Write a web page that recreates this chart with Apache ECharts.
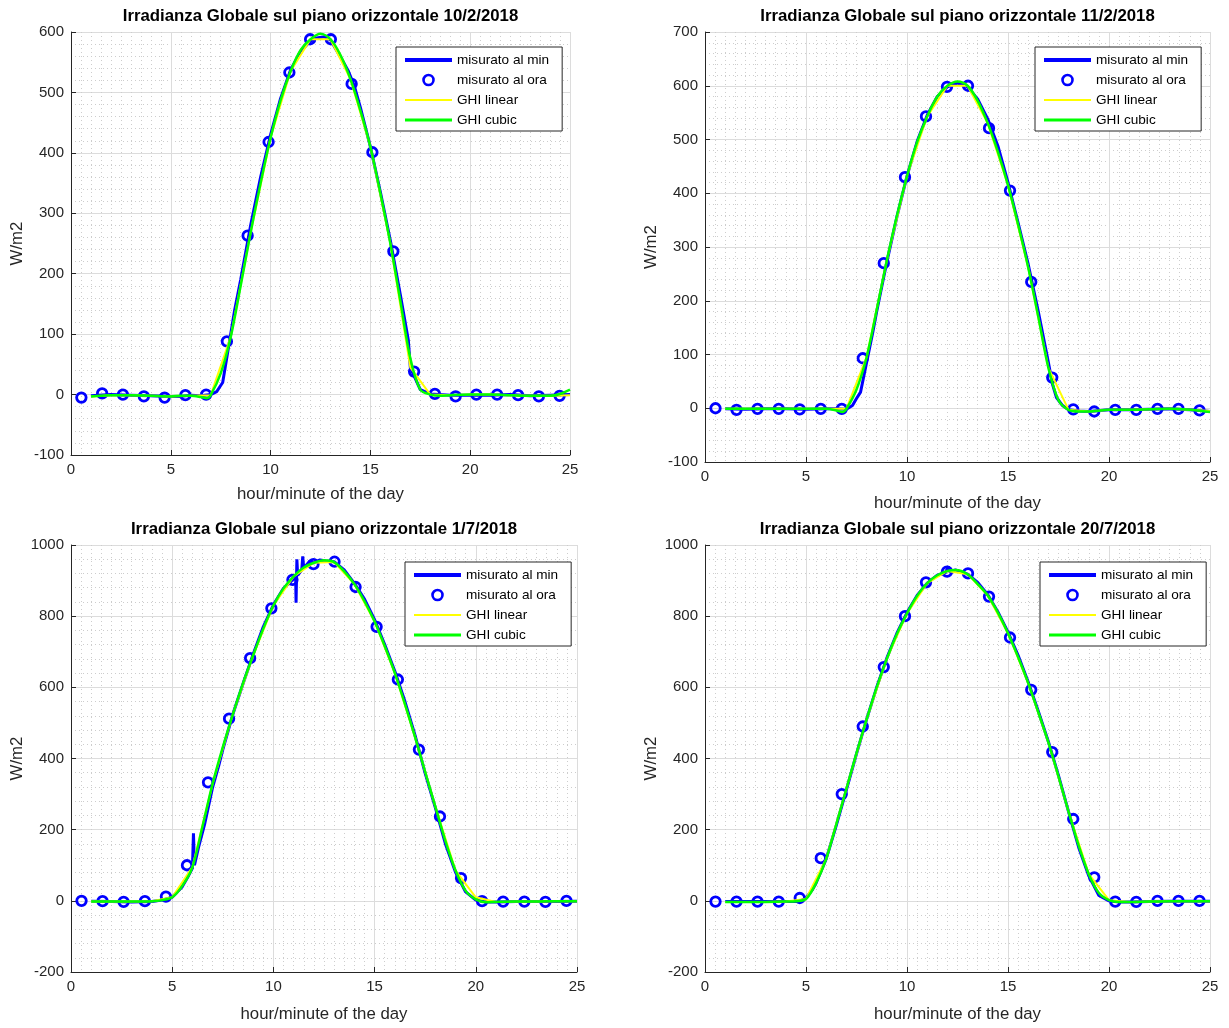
<!DOCTYPE html>
<html><head><meta charset="utf-8">
<script src="https://cdn.jsdelivr.net/npm/echarts@6/dist/echarts.min.js"></script>
<style>html,body{margin:0;padding:0;background:#fff}#c{width:1229px;height:1028px}</style>
</head><body><div id="c"></div><script>
// ---------- DATA ----------
const hourX = [0.52,1.56,2.6,3.65,4.69,5.73,6.77,7.81,8.85,9.9,10.94,11.98,13.02,14.06,15.1,16.15,17.19,18.23,19.27,20.31,21.35,22.4,23.44,24.48];
const xTicks = [0,5,10,15,20,25];

// 10/2/2018
const day1Hour = [-5,2,0,-3,-5,-1,0,88,263,418,533,588,588,514,401,237,38,1,-3,0,0,-1,-3,-2];
const day1Min = [[1,-2],[2,0],[3,-1],[4,-2],[5,-3],[5.5,-3],[6,-1],[6.5,-2],[7,0],[7.3,5],[7.5,15],[7.6,20],[7.9,80],[8.2,140],[8.5,190],[9,280],[9.5,360],[10,430],[10.5,490],[11,537],[11.5,568],[12,585],[12.3,590],[12.7,592],[13,587],[13.3,570],[13.6,553],[13.9,535],[14.2,510],[14.5,475],[15,410],[15.5,335],[16,255],[16.5,165],[16.9,90],[17,45],[17.2,30],[17.5,8],[18,1],[19,-1],[20,-1],[21,-1],[22,0],[23,-2],[24,-1],[25,0]];
const day1Linear = [[1,-3],[2,-1],[3,-1],[4,-2],[5,-3],[6,-2],[7,-1],[8,95],[9,268],[10,425],[11,535],[12,588],[13,588],[14,522],[15,410],[16,250],[17,45],[18,0],[19,-1],[20,0],[21,0],[22,-1],[23,-2],[24,-2],[25,-1]];
const day1Cubic = [[1,-3],[1.5,-2],[2,-1],[3,-1],[4,-2],[5,-3],[5.5,-2],[6,-2],[6.5,-4],[6.8,-6],[7,-1],[7.5,35],[8,95],[8.5,180],[9,268],[9.5,350],[10,425],[10.5,487],[11,535],[11.5,570],[12,588],[12.5,597],[13,588],[13.5,562],[14,522],[14.5,470],[15,410],[15.5,333],[16,250],[16.5,155],[17,60],[17.5,8],[18,0],[18.5,-2],[19,-1],[20,0],[21,0],[22,-1],[23,-2],[24,-2],[24.5,1],[25,8]];

// 11/2/2018
const day2Hour = [0,-3,-1,-1,-2,-1,-1,93,270,430,543,598,600,521,405,235,57,-2,-6,-3,-3,-1,-1,-4];
const day2Min = [[1,-1],[2,-2],[3,-1],[4,-1],[5,-2],[6,-1],[6.5,-1],[7,-2],[7.3,5],[7.5,18],[7.7,30],[8,85],[8.3,140],[8.5,180],[9,272],[9.5,356],[10,432],[10.5,496],[11,545],[11.5,580],[12,598],[12.5,605],[13,598],[13.5,575],[14,538],[14.5,488],[15,420],[15.5,345],[16,268],[16.5,180],[17,85],[17.2,45],[17.4,20],[17.7,5],[18,-3],[18.5,-5],[19,-6],[20,-3],[21,-3],[22,-2],[23,-1],[24,-3],[24.5,-4],[25,-6]];
const day2Linear = [[1,-1],[2,-1],[3,-1],[4,-1],[5,-1],[6,-1],[7,-1],[8,95],[9,275],[10,432],[11,543],[12,600],[13,600],[14,530],[15,415],[16,262],[17,75],[18,-3],[19,-6],[20,-3],[21,-3],[22,-2],[23,-1],[24,-3],[25,-5]];
const day2Cubic = [[1,-1],[2,-1],[3,-1],[4,-1],[5,-1],[6,-1],[6.5,-4],[6.8,-7],[7,-1],[7.5,35],[8,95],[8.5,183],[9,275],[9.5,358],[10,432],[10.5,495],[11,543],[11.5,580],[12,600],[12.5,608],[13,600],[13.5,572],[14,530],[14.5,477],[15,415],[15.5,342],[16,262],[16.5,170],[17,75],[17.5,15],[18,-3],[18.5,-6],[19,-6],[20,-3],[21,-3],[22,-2],[23,-1],[24,-3],[25,-7]];

// 1/7/2018
const day3Hour = [0,-1,-3,-1,12,100,333,512,682,822,902,946,953,882,770,622,425,237,64,-1,-2,-2,-3,0];
const day3Min = [[1,-1],[2,-2],[3,-3],[4,-2],[4.5,2],[5,10],[5.5,40],[5.8,70],[6,92],[6.05,190],[6.1,100],[6.3,150],[6.6,215],[7,320],[7.3,380],[7.5,425],[8,525],[8.5,610],[9,693],[9.5,770],[10,832],[10.5,878],[11,905],[11.1,907],[11.12,838],[11.16,960],[11.2,915],[11.4,930],[11.45,968],[11.5,935],[11.8,955],[12,950],[12.3,958],[12.6,955],[13,953],[13.5,930],[14,892],[14.5,848],[15,790],[15.5,720],[16,645],[16.5,560],[17,465],[17.5,358],[18,262],[18.5,160],[19,80],[19.5,25],[20,2],[20.5,-3],[21,-3],[22,-2],[23,-2],[24,-2],[25,-1]];
const day3Linear = [[1,-2],[2,-2],[3,-2],[4,-1],[5,10],[6,95],[7,330],[8,525],[9,690],[10,830],[11,912],[12,950],[13,952],[14,890],[15,785],[16,640],[17,460],[18,265],[19,85],[20,10],[21,-3],[22,-2],[23,-2],[24,-1],[25,-1]];
const day3Cubic = [[1,-2],[2,-2],[3,-2],[4,-1],[4.5,2],[5,10],[5.5,42],[6,95],[6.5,210],[7,330],[7.5,432],[8,525],[8.5,612],[9,690],[9.5,765],[10,830],[10.5,878],[11,912],[11.5,937],[12,950],[12.5,957],[13,952],[13.5,926],[14,890],[14.5,842],[15,785],[15.5,716],[16,640],[16.5,553],[17,460],[17.5,362],[18,265],[18.5,168],[19,85],[19.5,28],[20,4],[20.5,-4],[21,-3],[22,-2],[23,-2],[24,-1],[25,-1]];

// 20/7/2018
const day4Hour = [-2,-2,-2,-2,8,120,300,490,657,800,895,925,920,855,740,593,418,230,66,-2,-3,0,0,0];
const day4Min = [[1,-2],[2,-2],[3,-2],[4,-2],[4.5,-2],[4.8,2],[5,8],[5.3,30],[5.5,50],[6,118],[6.5,212],[7,312],[7.5,413],[8,510],[8.5,600],[9,682],[9.5,752],[10,810],[10.5,858],[11,893],[11.5,915],[11.9,922],[12.05,940],[12.1,925],[12.4,930],[13,918],[13.5,895],[14,860],[14.5,812],[15,755],[15.5,690],[16,615],[16.5,533],[17,447],[17.5,352],[18,250],[18.5,150],[19,70],[19.5,15],[20,0],[20.5,-3],[21,-3],[22,-2],[23,-1],[24,-1],[25,-1]];
const day4Linear = [[1,-3],[2,-3],[3,-3],[4,-2],[5,5],[6,118],[7,315],[8,510],[9,680],[10,808],[11,893],[12,927],[13,918],[14,858],[15,752],[16,612],[17,445],[18,250],[19,75],[20,2],[21,-3],[22,-2],[23,-1],[24,-1],[25,-1]];
const day4Cubic = [[1,-3],[2,-3],[3,-3],[4,-2],[4.5,-1],[5,5],[5.5,50],[6,118],[6.5,215],[7,315],[7.5,415],[8,510],[8.5,600],[9,680],[9.5,750],[10,808],[10.5,857],[11,893],[11.5,915],[12,927],[12.4,930],[13,918],[13.5,890],[14,858],[14.5,810],[15,752],[15.5,685],[16,612],[16.5,530],[17,445],[17.5,350],[18,250],[18.5,155],[19,75],[19.5,22],[20,2],[20.5,-3],[21,-3],[22,-2],[23,-1],[24,-1],[25,-1]];

const titles = ['Irradianza Globale sul piano orizzontale 10/2/2018','Irradianza Globale sul piano orizzontale 11/2/2018','Irradianza Globale sul piano orizzontale 1/7/2018','Irradianza Globale sul piano orizzontale 20/7/2018'];
const seriesNames = ['misurato al min','misurato al ora','GHI linear','GHI cubic'];
const xName = 'hour/minute of the day';
const yName = 'W/m2';

// ---------- LAYOUT ----------
const FONT = '"Liberation Sans", Arial, Helvetica, sans-serif';
const panels = [
  {hour:day1Hour,min:day1Min,lin:day1Linear,cub:day1Cubic,yMin:-100,yMax:600,yStep:100,grid:{left:71,top:32,width:499,height:423},legend:{left:396,top:47},titleTop:8,xGap:31},
  {hour:day2Hour,min:day2Min,lin:day2Linear,cub:day2Cubic,yMin:-100,yMax:700,yStep:100,grid:{left:705,top:32,width:505,height:430},legend:{left:1035,top:47},titleTop:8,xGap:33},
  {hour:day3Hour,min:day3Min,lin:day3Linear,cub:day3Cubic,yMin:-200,yMax:1000,yStep:200,grid:{left:71,top:545,width:506,height:427},legend:{left:405,top:562},titleTop:521,xGap:34},
  {hour:day4Hour,min:day4Min,lin:day4Linear,cub:day4Cubic,yMin:-200,yMax:1000,yStep:200,grid:{left:705,top:545,width:505,height:427},legend:{left:1040,top:562},titleTop:521,xGap:34}
];

const axisCommon = {
  axisLine:{show:true,onZero:false,lineStyle:{color:'#262626',width:1}},
  axisTick:{show:true,inside:true,length:5,lineStyle:{color:'#262626'}},
  splitLine:{show:true,lineStyle:{color:'#dcdcdc',width:1}},
  minorSplitLine:{show:true,lineStyle:{color:'#cdcdcd',width:1,type:[1,3]}}
};

const legendData = [
  {name:seriesNames[0],icon:'path://M0,0H47V4H0Z',itemStyle:{color:'#0000ff',borderWidth:0}},
  {name:seriesNames[1],icon:'circle',itemStyle:{color:'rgba(0,0,0,0)',borderColor:'#0000ff',borderWidth:2.6}},
  {name:seriesNames[2],icon:'path://M0,0H47V2H0Z',itemStyle:{color:'#ffff00',borderWidth:0}},
  {name:seriesNames[3],icon:'path://M0,0H47V3H0Z',itemStyle:{color:'#00ff00',borderWidth:0}}
];

const option = {
  animation:false,
  backgroundColor:'#ffffff',
  textStyle:{fontFamily:FONT},
  title: panels.map((p,i)=>({text:titles[i],left:p.grid.left+p.grid.width/2,top:p.titleTop,textAlign:'center',padding:0,
    textStyle:{fontSize:16.8,fontWeight:'bold',color:'#000',fontFamily:FONT}})),
  grid: panels.map(p=>Object.assign({containLabel:false,outerBoundsMode:'none'},p.grid)),
  legend: panels.map(p=>({left:p.legend.left,top:p.legend.top,orient:'vertical',backgroundColor:'#fff',borderColor:'#262626',borderWidth:1,
    padding:[6,13,4,9],itemWidth:47,itemHeight:10,itemGap:6,selectedMode:false,
    textStyle:{fontSize:13.6,lineHeight:14,color:'#000',fontFamily:FONT},data:legendData})),
  xAxis: panels.map((p,i)=>Object.assign({type:'value',gridIndex:i,min:xTicks[0],max:xTicks[xTicks.length-1],interval:xTicks[1]-xTicks[0],
    name:xName,nameLocation:'middle',nameGap:p.xGap,nameTextStyle:{fontSize:16.8,color:'#262626',fontFamily:FONT},
    axisLabel:{fontSize:15,color:'#262626',margin:7,fontFamily:FONT},
    minorTick:{show:false,splitNumber:10}},axisCommon)),
  yAxis: panels.map((p,i)=>Object.assign({type:'value',gridIndex:i,min:p.yMin,max:p.yMax,interval:p.yStep,
    name:yName,nameLocation:'middle',nameGap:45,nameTextStyle:{fontSize:16.8,color:'#262626',fontFamily:FONT},
    axisLabel:{fontSize:15,color:'#262626',margin:7,fontFamily:FONT,formatter:v=>String(v)},
    minorTick:{show:false,splitNumber:5}},axisCommon)),
  series: []
};

panels.forEach((p,i)=>{
  option.series.push({type:'line',name:seriesNames[0],xAxisIndex:i,yAxisIndex:i,data:p.min,symbol:'none',z:2,
    lineStyle:{color:'#0000ff',width:3},itemStyle:{color:'#0000ff'},emphasis:{disabled:true}});
  option.series.push({type:'scatter',name:seriesNames[1],xAxisIndex:i,yAxisIndex:i,data:hourX.map((x,k)=>[x,p.hour[k]]),
    symbol:'circle',symbolSize:9.5,z:3,itemStyle:{color:'rgba(0,0,0,0)',borderColor:'#0000ff',borderWidth:2.8,opacity:1},emphasis:{disabled:true}});
  option.series.push({type:'line',name:seriesNames[2],xAxisIndex:i,yAxisIndex:i,data:p.lin,symbol:'none',z:4,
    lineStyle:{color:'#ffff00',width:2},itemStyle:{color:'#ffff00'},emphasis:{disabled:true}});
  option.series.push({type:'line',name:seriesNames[3],xAxisIndex:i,yAxisIndex:i,data:p.cub,symbol:'none',smooth:0.3,z:5,
    lineStyle:{color:'#00ff00',width:2.5},itemStyle:{color:'#00ff00'},emphasis:{disabled:true}});
});

const chart = echarts.init(document.getElementById('c'),null,{renderer:'canvas'});
chart.setOption(option);
</script></body></html>
